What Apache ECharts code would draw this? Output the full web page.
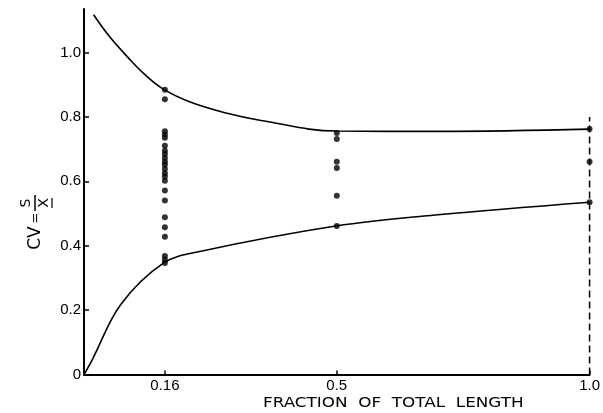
<!DOCTYPE html>
<html><head><meta charset="utf-8">
<script src="https://cdn.jsdelivr.net/npm/echarts@6/dist/echarts.min.js"></script>
<style>html,body{margin:0;padding:0;background:#fff}#c{width:603px;height:413px}</style>
</head><body><div id="c"></div>
<script>
// ---- data ----
const xTickValues = [0.16, 0.5, 1.0];
const xTickLabels = ['0.16', '0.5', '1.0'];
const yTickValues = [0, 0.2, 0.4, 0.6, 0.8, 1.0];
const yTickLabels = ['0', '0.2', '0.4', '0.6', '0.8', '1.0'];

const upperCurveX = [0.019, 0.05, 0.085, 0.12, 0.157, 0.21, 0.281, 0.35, 0.5, 0.70, 1.0];
const upperCurveY = [1.117, 1.05, 0.988, 0.932, 0.886, 0.846, 0.812, 0.789, 0.756, 0.755, 0.762];
const lowerCurveX = [0, 0.016, 0.072, 0.157, 0.229, 0.498, 0.70, 1.0];
const lowerCurveY = [0, 0.045, 0.216, 0.346, 0.382, 0.461, 0.496, 0.535];

const dotsAt016 = [0.884, 0.855, 0.755, 0.745, 0.735, 0.71, 0.695, 0.685, 0.672, 0.661, 0.651, 0.638, 0.625, 0.615, 0.602, 0.571, 0.54, 0.488, 0.457, 0.428, 0.368, 0.356, 0.346];
const dotsAt05 = [0.750, 0.731, 0.661, 0.641, 0.555, 0.461];
const dotsAt10 = [0.762, 0.661, 0.535];
const boundaryX = [1.0, 1.0];
const boundaryY = [0, 0.80];

// ---- build series ----
const zip = (xs, ys) => xs.map((x, i) => [x, ys[i]]);
const dots = [].concat(
  dotsAt016.map(v => [0.16, v]),
  dotsAt05.map(v => [0.5, v]),
  dotsAt10.map(v => [1.0, v])
);

const FONT = 'Liberation Sans';
const chart = echarts.init(document.getElementById('c'), null, {renderer: 'canvas'});
chart.setOption({
  animation: false,
  backgroundColor: '#fff',
  grid: {left: 84, right: 10, top: 9, bottom: 38.5, containLabel: false},
  xAxis: {
    type: 'value', min: 0, max: 1.0,
    axisLine: {show: true, lineStyle: {color: '#000', width: 2}},
    splitLine: {show: false},
    axisTick: {show: true, inside: true, length: 4, customValues: xTickValues, lineStyle: {color: '#000', width: 1.5}},
    axisLabel: {
      customValues: xTickValues, color: '#000', fontFamily: FONT, fontSize: 15, margin: 4,
      formatter: v => xTickLabels[xTickValues.findIndex(t => Math.abs(t - v) < 1e-6)] || ''
    }
  },
  yAxis: {
    type: 'value', min: 0, max: 1.135,
    axisLine: {show: true, lineStyle: {color: '#000', width: 2}},
    splitLine: {show: false},
    axisTick: {show: true, inside: true, length: 5, customValues: yTickValues, lineStyle: {color: '#000', width: 1.5}},
    axisLabel: {
      customValues: yTickValues, color: '#000', fontFamily: FONT, fontSize: 15, margin: 3,
      formatter: v => yTickLabels[yTickValues.findIndex(t => Math.abs(t - v) < 1e-6)] || ''
    }
  },
  series: [
    {type: 'line', data: zip(upperCurveX, upperCurveY), smooth: 0.4, symbol: 'none',
     lineStyle: {color: '#000', width: 1.6}, z: 3},
    {type: 'line', data: zip(lowerCurveX, lowerCurveY), smooth: 0.35, symbol: 'none',
     lineStyle: {color: '#000', width: 1.6}, z: 3},
    {type: 'line', data: zip(boundaryX, boundaryY), symbol: 'none',
     lineStyle: {color: '#000', width: 1.5, type: [7, 4]}, z: 2},
    {type: 'scatter', data: dots, symbol: 'circle', symbolSize: 6,
     itemStyle: {color: '#000'}, z: 4}
  ],
  graphic: [
    {type: 'text', left: 263, top: 396, scaleX: 1.2,
     style: {text: 'FRACTION  OF  TOTAL  LENGTH', fill: '#000', font: '14px "DejaVu Sans"'}},
    {type: 'group', x: 36, y: 214, rotation: Math.PI / 2, children: [
      {type: 'text', x: -24, y: 0, style: {text: 'CV', fill: '#000', font: '17px "DejaVu Sans"', align: 'center', verticalAlign: 'middle'}},
      {type: 'text', x: -4, y: 0, style: {text: '=', fill: '#000', font: '13px "DejaVu Sans"', align: 'center', verticalAlign: 'middle'}},
      {type: 'text', x: 11, y: -10, style: {text: 'S', fill: '#000', font: '14px "DejaVu Sans"', align: 'center', verticalAlign: 'middle'}},
      {type: 'line', shape: {x1: 3, y1: -1, x2: 19, y2: -1}, style: {stroke: '#000', lineWidth: 1.5}},
      {type: 'text', x: 11, y: 8, style: {text: 'X', fill: '#000', font: '14px "DejaVu Sans"', align: 'center', verticalAlign: 'middle'}},
      {type: 'line', shape: {x1: 6, y1: 16, x2: 16, y2: 16}, style: {stroke: '#000', lineWidth: 1.2}}
    ]}
  ]
});
</script>
</body></html>
